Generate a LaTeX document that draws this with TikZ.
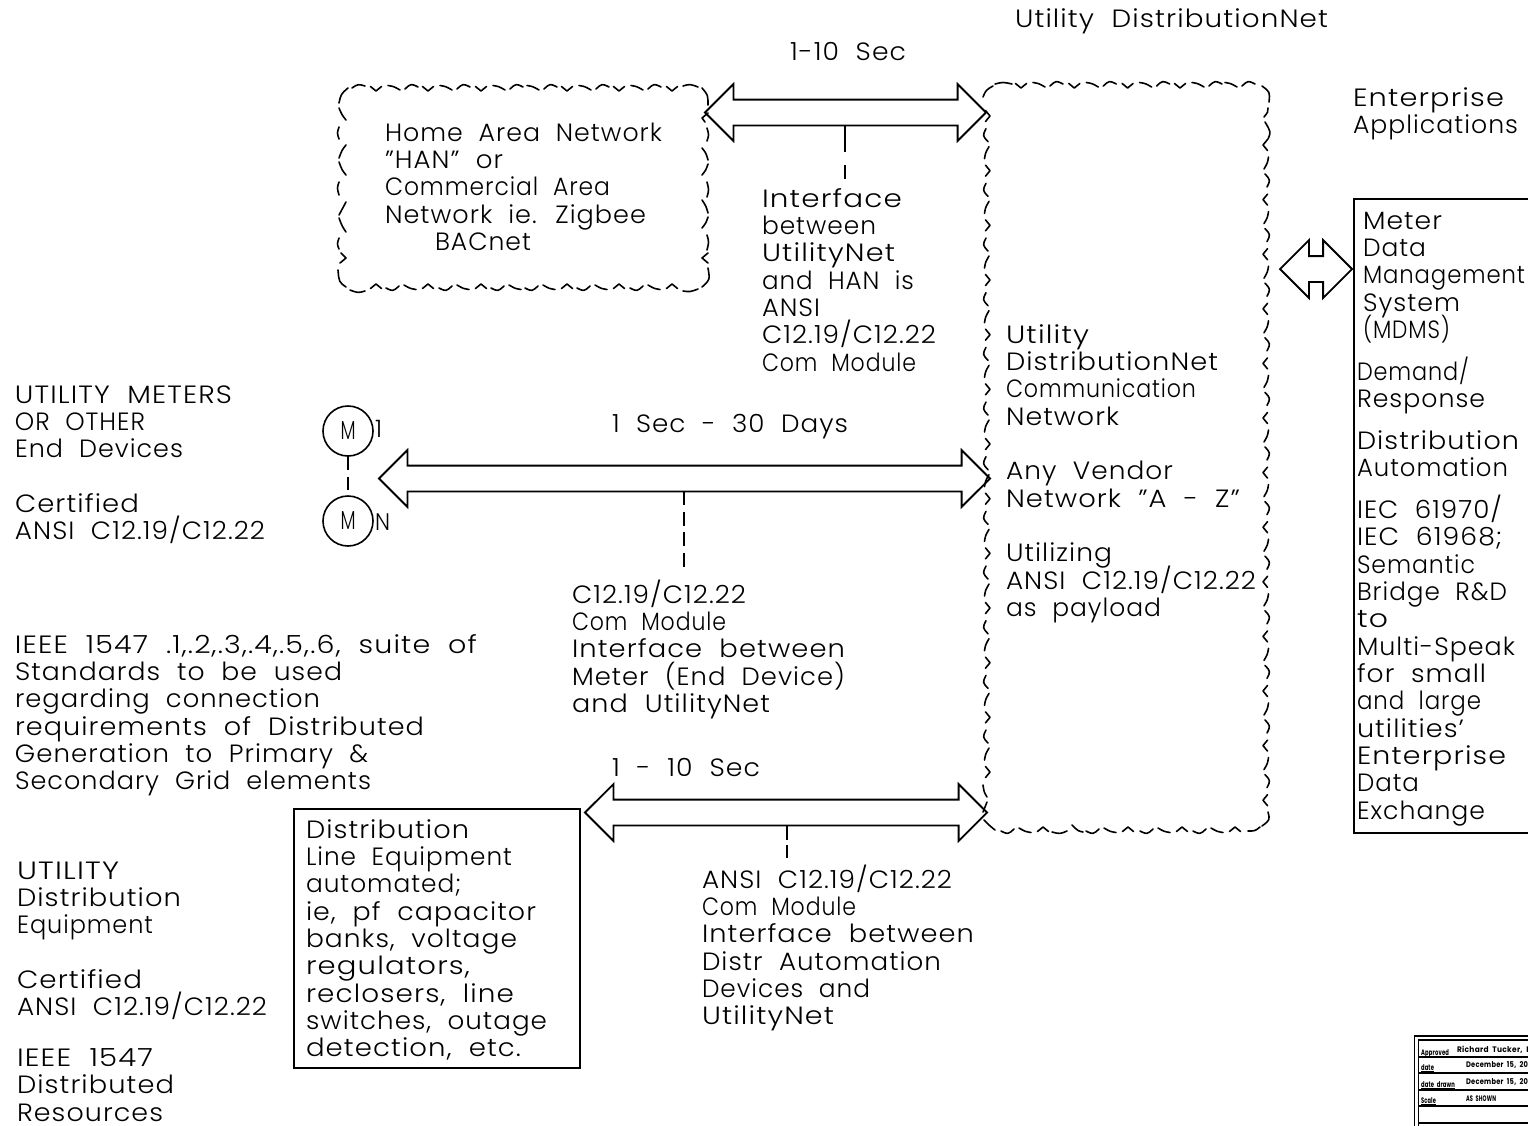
\documentclass[tikz,border=0pt]{standalone}
\usepackage{graphicx}
\usepackage{fontspec}
\setmainfont{Poppins}[UprightFont=* Light,BoldFont=* Bold,LetterSpace=4,WordSpace=2]
\usetikzlibrary{shapes.arrows,positioning}
\newcommand{\sk}{27.35pt}
\newcommand{\lw}[2]{\rule{0pt}{20pt}\rule[-7pt]{0pt}{7pt}\smash{\resizebox{#1pt}{\height}{#2}}}
\newcommand{\cdash}[3]{\draw[cloudline] (#1) .. controls (#2) .. (#3);}
\tikzset{
  cloudline/.style={line width=1.6pt,line cap=round,line join=round},
  lbl/.style={anchor=north west,inner sep=0pt,outer sep=0pt,align=left,font=\fontsize{25}{\sk}\selectfont,text=black},
  frame/.style={draw,line width=1.8pt,inner sep=0pt,outer sep=0pt},
  bigarrow/.style={double arrow,draw,line width=1.8pt,inner sep=0pt,outer sep=0pt,double arrow tip angle=90,
     double arrow head extend=15.5pt,minimum width=56pt,text height=24pt,text depth=0pt,text width=0pt},
  leader/.style={line width=1.8pt},
  meter/.style={circle,draw,line width=1.6pt,inner sep=0pt,outer sep=0pt,minimum size=50pt,font=\fontsize{26}{26}\selectfont},
  tiny/.style={inner sep=0pt,outer sep=0pt,anchor=base west,font=\fontsize{8}{9}\bfseries\selectfont},
  cloudvee/.pic={\draw[cloudline] (-5.5,-4.5) -- (0,0) -- (5.5,-4.5);},
  cloudarcs/.pic={\draw[cloudline] (12,-5.5) .. controls (18,-4.5) .. (24,-1);
                  \draw[cloudline] (29,-2) .. controls (35,-7.5) .. (42,-4);},
}
\begin{document}
\begin{tikzpicture}[x=1pt,y=-1pt]
\useasboundingbox (0,0) rectangle (1528,1125);
\clip (0,0) rectangle (1528,1125);
% utility cloud
\foreach \x in {1021,1074.3,1127.6,1180}{\pic at (\x,88) {cloudvee};\pic at (\x,88) {cloudarcs};}
\pic at (1213,88) {cloudarcs};
\cdash{995,84}{1003,82}{1012,84}
\cdash{983,97}{986,90}{993,86}
\cdash{1262,86}{1270,92}{1269,102}
\cdash{1268,108}{1268,112}{1264,117}
\foreach \k in {0,...,12}{\pic[rotate=-90] at (1263,145+54.6*\k) {cloudvee};}
\foreach \k in {0,...,11}{\pic[rotate=-90] at (1263,145+54.6*\k) {cloudarcs};}
\cdash{1265,122}{1271,132}{1268,139}
\cdash{1268,812}{1270,820}{1262,826}
\cdash{1260,827}{1255,831}{1248,831}
\foreach \x in {1235,1182,1128}{\pic[rotate=180] at (\x,827) {cloudvee};\pic[rotate=180] at (\x,827) {cloudarcs};}
\cdash{1083,832}{1078,831}{1072,825}
\pic[rotate=180] at (1043,827) {cloudvee};
\cdash{1067,831}{1060,834}{1052,832}
\pic[rotate=180] at (1043,827) {cloudarcs};
\cdash{995,830}{990,826}{984,820}
\foreach \k in {0,...,12}{\pic[rotate=90] at (990,116+54.67*\k) {cloudvee};}
\foreach \k in {1,...,12}{\pic[rotate=90] at (990,116+54.67*\k) {cloudarcs};}
\cdash{983,785}{984,792}{987,797}
\cdash{987,802}{985,807}{983,812}
% HAN cloud
\foreach \x in {376,428,481,567,619}{\pic at (\x,91) {cloudvee};\pic at (\x,91) {cloudarcs};}
\pic at (515,91) {cloudarcs};
\pic at (672,91) {cloudvee};
\cdash{683,86}{690,84}{698,87}
\cdash{352,88}{358,84}{365,86}
\cdash{339,103}{341,94}{348,88}
\foreach \x in {672,619,567,481,428}{\pic[rotate=180] at (\x,284) {cloudvee};\pic[rotate=180] at (\x,284) {cloudarcs};}
\pic[rotate=180] at (533,284) {cloudarcs};
\pic[rotate=180] at (376,284) {cloudvee};
\cdash{698,289}{690,292}{683,291}
\cdash{365,291}{358,293}{350,290}
\cdash{338,270}{339,282}{346,287}
\cdash{339,108}{342,115}{346,120}
\cdash{339,127}{337,133}{339,139}
\cdash{346,145}{342,150}{339,158}
\cdash{339,162}{342,170}{346,175}
\cdash{339,182}{337,188}{339,195}
\cdash{346,202}{342,208}{339,215}
\cdash{339,218}{342,226}{346,232}
\cdash{339,238}{337,244}{339,249}
\draw[cloudline] (341,253) -- (346,258) -- (340,263);
\cdash{702,88}{708,95}{708,105}
\draw[cloudline] (708,113) -- (702,118) -- (705,122);
\cdash{707,128}{709,135}{707,141}
\cdash{702,148}{706,153}{708,160}
\cdash{708,164}{706,170}{702,175}
\cdash{707,182}{709,190}{707,197}
\cdash{702,200}{706,206}{708,213}
\cdash{708,217}{706,223}{702,228}
\cdash{707,235}{709,242}{707,250}
\draw[cloudline] (708,253) -- (702,258) -- (708,263);
\cdash{708,268}{710,280}{702,287}
% arrows
\node[bigarrow,minimum height=281pt] (harrow) at (845.5,112.5) {};
\node[bigarrow,minimum height=611pt] (marrow) at (684.5,478.5) {};
\node[bigarrow,minimum height=402pt] (barrow) at (786,812.5) {};
\node[bigarrow,minimum height=72pt,text height=24pt,double arrow head extend=16pt] (sarrow) at (1316,269) {};
% leaders
\coordinate (ha) at (845,125); \coordinate (hb) at (845,179);
\coordinate (ma) at (684,491); \coordinate (mb) at (684,567);
\coordinate (ba) at (787,825); \coordinate (bb) at (787,858);
\draw[leader,dash pattern=on 27pt off 13pt on 14pt off 50pt] (ha) -- (hb);
\draw[leader,dash pattern=on 14pt off 6.5pt] (ma) -- (mb);
\draw[leader,dash pattern=on 15pt off 5pt on 13pt off 50pt] (ba) -- (bb);
% meters
\node[meter] (m1) at (348,431) {\resizebox{15pt}{\height}{M}};
\node[meter] (mn) at (348,521) {\resizebox{15pt}{\height}{M}};
\draw[leader,line width=1.6pt,dash pattern=on 14pt off 7pt on 13pt off 50pt] (m1) -- (mn);
\node[lbl,anchor=base west,font=\fontsize{24}{24}\selectfont] (one) at (375,437) {1};
\node[lbl,anchor=base west,font=\fontsize{24}{24}\selectfont] (en) at (375,530) {\resizebox{15pt}{\height}{N}};
% boxes
\node[frame,anchor=north west,minimum width=286pt,minimum height=259pt] (dbox) at (294,809) {};
\node[frame,anchor=north west,minimum width=200pt,minimum height=634pt] (mbox) at (1354,199) {};
% labels
\node[lbl] (t1) at (1015,7) {\lw{313}{Utility DistributionNet}};
\node[lbl] (t2) at (790,40) {\lw{116}{1-10 Sec}};
\node[lbl] (t3) at (1353,86) {\lw{151}{Enterprise}\\\lw{165}{Applications}};
\node[lbl] (t4) at (385,121) {\lw{277}{Home Area Network}\\\lw{118}{"HAN" or}\\\lw{225}{Commercial Area}\\\lw{261}{Network ie. Zigbee}\\\hspace*{50pt}\lw{96}{BACnet}};
\node[lbl] (t5) at (762,187) {\lw{140}{Interface}\\\lw{114}{between}\\\lw{133}{UtilityNet}\\\lw{152}{and HAN is}\\\lw{58}{ANSI}\\\lw{174}{C12.19/C12.22}\\\lw{154}{Com Module}};
\node[lbl] (t6) at (15,383) {\lw{217}{UTILITY METERS}\\\lw{130}{OR OTHER}\\\lw{168}{End Devices}\\\mbox{}\\\lw{124}{Certified}\\\lw{250}{ANSI C12.19/C12.22}};
\node[lbl] (t7) at (612,412) {\lw{236}{1 Sec - 30 Days}};
\node[lbl] (t8) at (1006,323) {\lw{83}{Utility}\\\lw{212}{DistributionNet}\\\lw{190}{Communication}\\\lw{113}{Network}\\\mbox{}\\\lw{167}{Any Vendor}\\\lw{234}{Network "A - Z"}\\\mbox{}\\\lw{106}{Utilizing}\\\lw{250}{ANSI C12.19/C12.22}\\\lw{155}{as payload}};
\node[lbl] (t9) at (572,583) {\lw{174}{C12.19/C12.22}\\\lw{154}{Com Module}\\\lw{273}{Interface between}\\\lw{273}{Meter (End Device)}\\\lw{198}{and UtilityNet}};
\node[lbl] (t10) at (15,633) {\lw{462}{IEEE 1547 .1,.2,.3,.4,.5,.6, suite of}\\\lw{327}{Standards to be used}\\\lw{305}{regarding connection}\\\lw{409}{requirements of Distributed}\\\lw{353}{Generation to Primary \&}\\\lw{356}{Secondary Grid elements}};
\node[lbl] (t11) at (612,756) {\lw{148}{1 - 10 Sec}};
\node[lbl] (t12) at (306,818) {\lw{163}{Distribution}\\\lw{206}{Line Equipment}\\\lw{155}{automated;}\\\lw{230}{ie, pf capacitor}\\\lw{211}{banks, voltage}\\\lw{164}{regulators,}\\\lw{208}{reclosers, line}\\\lw{241}{switches, outage}\\\lw{215}{detection, etc.}};
\node[lbl] (t13) at (702,868) {\lw{250}{ANSI C12.19/C12.22}\\\lw{154}{Com Module}\\\lw{272}{Interface between}\\\lw{239}{Distr Automation}\\\lw{168}{Devices and}\\\lw{132}{UtilityNet}};
\node[lbl] (t14) at (17,859) {\lw{102}{UTILITY}\\\lw{164}{Distribution}\\\lw{136}{Equipment}\\\mbox{}\\\lw{125}{Certified}\\\lw{250}{ANSI C12.19/C12.22}\\\mbox{}\\[-4pt]\lw{136}{IEEE 1547}\\\lw{157}{Distributed}\\\lw{146}{Resources}};
\node[lbl] (t15) at (1363,209) {\lw{79}{Meter}\\\lw{63}{Data}\\\lw{162}{Management}\\\lw{97}{System}\\\lw{87}{(MDMS)}};
\node[lbl] (t16) at (1357,360) {\lw{112}{Demand/}\\\lw{128}{Response}\\[14.5pt]\lw{162}{Distribution}\\\lw{151}{Automation}\\[14.5pt]\lw{145}{IEC 61970/}\\\lw{145}{IEC 61968;}\\\lw{118}{Semantic}\\\lw{150}{Bridge R\&D}\\\lw{31}{to}\\\lw{158}{Multi-Speak}\\\lw{129}{for small}\\\lw{124}{and large}\\\lw{107}{utilities'}\\\lw{149}{Enterprise}\\\lw{62}{Data}\\\lw{128}{Exchange}};
% title block
\node[frame,line width=1.5pt,anchor=north west,minimum width=200pt,minimum height=120pt] (tb1) at (1414.5,1036) {};
\node[frame,line width=1.5pt,anchor=north west,minimum width=200pt,minimum height=120pt] (tb2) at (1418.5,1040) {};
\foreach \y in {1057,1073,1090,1106,1123}{\draw[line width=1.5pt] (1418.5,\y) -- (1528,\y);}
\node[tiny] (a1) at (1421,1055) {\underline{\smash{\resizebox{28pt}{\height}{Approved}}}};
\node[tiny] (a2) at (1457,1052) {\resizebox{74pt}{\height}{Richard Tucker, P}};
\node[tiny] (a3) at (1421,1070) {\underline{\smash{\resizebox{13pt}{\height}{date}}}};
\node[tiny] (a4) at (1466,1067) {\resizebox{62pt}{\height}{December 15, 20}};
\node[tiny] (a5) at (1421,1087) {\underline{\smash{\resizebox{34pt}{\height}{date drawn}}}};
\node[tiny] (a6) at (1466,1084) {\resizebox{62pt}{\height}{December 15, 20}};
\node[tiny] (a7) at (1421,1103) {\underline{\smash{\resizebox{15pt}{\height}{Scale}}}};
\node[tiny] (a8) at (1466,1101) {\resizebox{30pt}{\height}{AS SHOWN}};
\end{tikzpicture}
\end{document}
